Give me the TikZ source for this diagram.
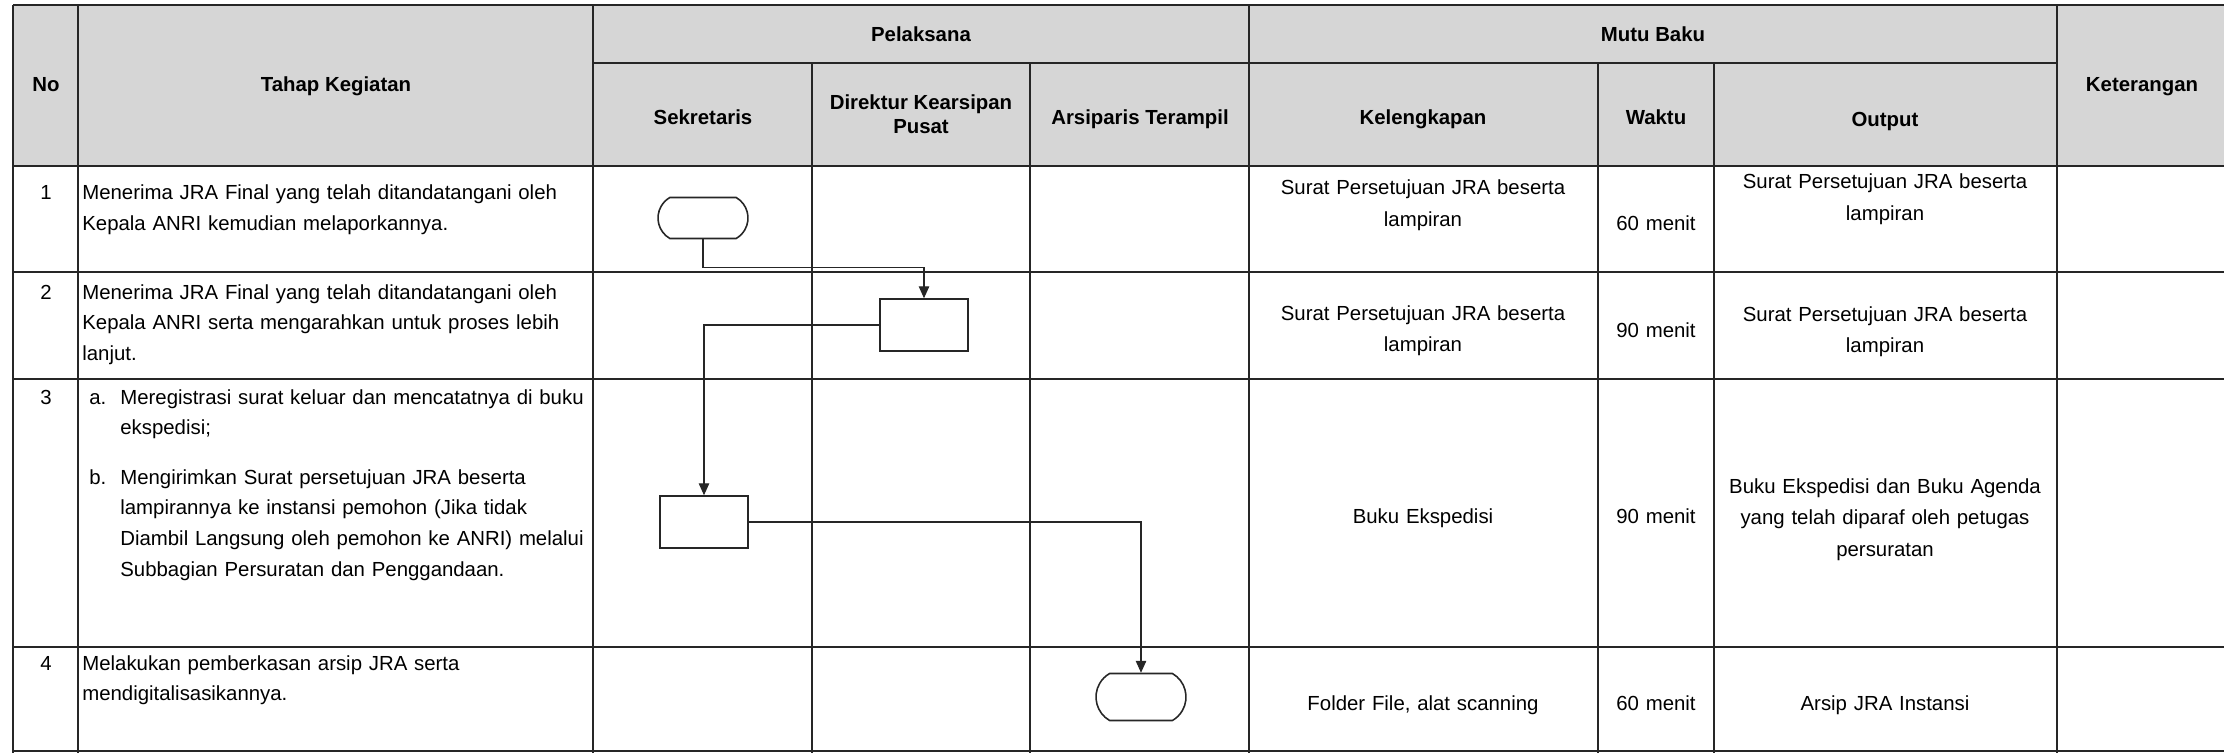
\documentclass[tikz,border=0pt]{standalone}
\usepackage{fontspec}
\setmainfont{Liberation Sans}
\usetikzlibrary{arrows.meta,shapes.misc}

\begin{document}
\begin{tikzpicture}[x=0.02cm, y=-0.02cm,
    tabline/.style={line width=1pt, black!85},
    flow/.style={line width=0.6pt, black!85, -{Triangle[length=6.8pt,width=6pt]}},
    terminal/.style={draw=black!85, line width=0.9pt, rounded rectangle, rounded rectangle arc length=120, minimum width=1.8cm, minimum height=0.82cm, inner sep=0pt},
    procbox/.style={draw=black!85, line width=0.9pt, minimum width=1.75cm, minimum height=1.04cm, inner sep=0pt},
    head/.style={font=\fontsize{11.6}{14}\selectfont\bfseries, anchor=base, inner sep=0pt, align=center},
    num/.style={font=\fontsize{11.6}{14}\selectfont, anchor=base, inner sep=0pt},
    body/.style={font=\fontsize{11.6}{17.5}\selectfont, anchor=base west, inner sep=0pt, text width=10cm, align=left},
    cell/.style={font=\fontsize{11.6}{18}\selectfont, anchor=base, inner sep=0pt, text width=6.8cm, align=center}]
    \useasboundingbox (0,0) rectangle (2224,753);

    % Header
    \fill[black!16] (13,5) rectangle (2224,166);
    \draw[tabline] (13,5) -- (2224,5);
    \draw[tabline] (593,63) -- (2057,63);
    \foreach \yy in {166,272,379,647,751}
        \draw[tabline] (13,\yy) -- (2224,\yy);
    \foreach \xx in {13,78,593,1249,2057}
        \draw[tabline] (\xx,5) -- (\xx,753);
    \foreach \xx in {812,1030,1598,1714}
        \draw[tabline] (\xx,63) -- (\xx,753);

    \node[head] (hno) at (46,92) {No};
    \node[head] (htahap) at (336,92) {Tahap Kegiatan};
    \node[head] (hpel) at (921,42) {Pelaksana};
    \node[head] (hmutu) at (1653,42) {Mutu Baku};
    \node[head] (hket) at (2142,92) {Keterangan};
    \node[head] (hsek) at (703,125) {Sekretaris};
    \node[head] (hdir) at (921,134) {Direktur Kearsipan\\Pusat};
    \node[head] (harsip) at (1140,125) {Arsiparis Terampil};
    \node[head] (hkel) at (1423,125) {Kelengkapan};
    \node[head] (hwaktu) at (1656,125) {Waktu};
    \node[head] (hout) at (1885,127) {Output};

    % Steps
    \node[num] (n1) at (46,200) {1};
    \node[body] (t1) at (82,200) {Menerima JRA Final yang telah ditandatangani oleh\\Kepala ANRI kemudian melaporkannya.};
    \node[num] (n2) at (46,299) {2};
    \node[body] (t2) at (82,299) {Menerima JRA Final yang telah ditandatangani oleh\\Kepala ANRI serta mengarahkan untuk proses lebih\\lanjut.};
    \node[num] (n3) at (46,404) {3};
    \node[body, text width=1cm] (la) at (89,404) {a.};
    \node[body] (t3a) at (120,404) {Meregistrasi surat keluar dan mencatatnya di buku\\ekspedisi;};
    \node[body, text width=1cm] (lb) at (89,484) {b.};
    \node[body] (t3b) at (120,484) {Mengirimkan Surat persetujuan JRA beserta\\lampirannya ke instansi pemohon (Jika tidak\\Diambil Langsung oleh pemohon ke ANRI) melalui\\Subbagian Persuratan dan Penggandaan.};
    \node[num] (n4) at (46,670) {4};
    \node[body] (t4) at (82,670) {Melakukan pemberkasan arsip JRA serta\\mendigitalisasikannya.};

    % Mutu baku
    \node[cell] (k1) at (1423,195) {Surat Persetujuan JRA beserta\\lampiran};
    \node[cell] (w1) at (1656,231) {60 menit};
    \node[cell] (o1) at (1885,189) {Surat Persetujuan JRA beserta\\lampiran};
    \node[cell] (k2) at (1423,320) {Surat Persetujuan JRA beserta\\lampiran};
    \node[cell] (w2) at (1656,337) {90 menit};
    \node[cell] (o2) at (1885,321) {Surat Persetujuan JRA beserta\\lampiran};
    \node[cell] (k3) at (1423,523) {Buku Ekspedisi};
    \node[cell] (w3) at (1656,523) {90 menit};
    \node[cell] (o3) at (1885,493) {Buku Ekspedisi dan Buku Agenda\\yang telah diparaf oleh petugas\\persuratan};
    \node[cell] (k4) at (1423,710) {Folder File, alat scanning};
    \node[cell] (w4) at (1656,710) {60 menit};
    \node[cell] (o4) at (1885,710) {Arsip JRA Instansi};

    % Flow
    \node[terminal] (start) at (703,218) {};
    \node[procbox] (check) at (924,325) {};
    \node[procbox] (send) at (704,522) {};
    \node[terminal, minimum height=0.94cm] (finish) at (1141,697) {};

    \draw[flow] (start.south) -- ++(0,28) -| (check.north);
    \draw[flow] (check.west) -| (send.north);
    \draw[flow] (send.east) -| (finish.north);
\end{tikzpicture}
\end{document}
